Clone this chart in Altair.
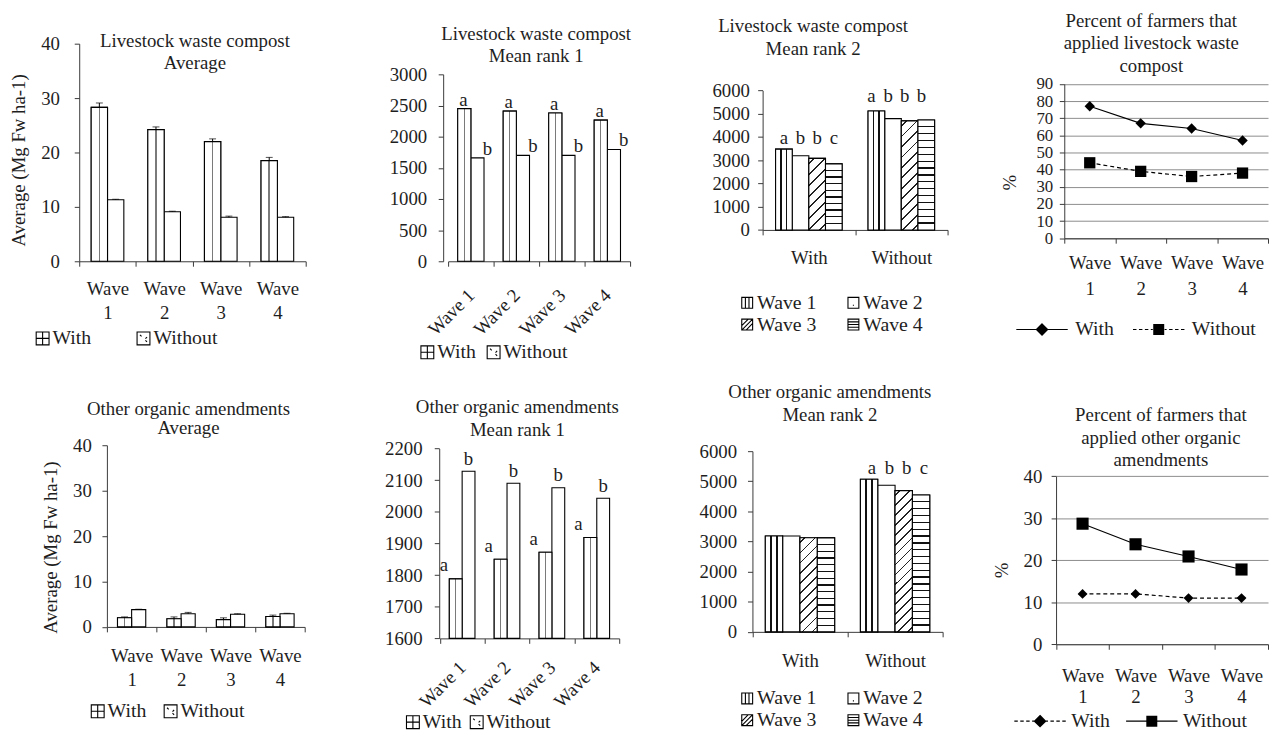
import altair as alt
import pandas as pd

# ---------------- data ----------------
waves = ["Wave 1", "Wave 2", "Wave 3", "Wave 4"]
groups = ["With", "Without"]

# Livestock waste compost
lwc_avg_with = [28.3, 24.2, 22.0, 18.5]
lwc_avg_with_err = [0.8, 0.5, 0.5, 0.6]
lwc_avg_without = [11.3, 9.1, 8.1, 8.1]
lwc_avg_without_err = [0.1, 0.1, 0.2, 0.1]

lwc_rank1_with = [2450, 2410, 2380, 2265]
lwc_rank1_without = [1660, 1700, 1700, 1795]
lwc_rank1_letters_with = ["a", "a", "a", "a"]
lwc_rank1_letters_without = ["b", "b", "b", "b"]

lwc_rank2_with = [3475, 3190, 3080, 2840]
lwc_rank2_without = [5120, 4790, 4690, 4730]
lwc_rank2_letters_with = ["a", "b", "b", "c"]
lwc_rank2_letters_without = ["a", "b", "b", "b"]

lwc_pct_with = [77, 67, 64, 57]
lwc_pct_without = [44, 39, 36, 38]

# Other organic amendments
ooa_avg_with = [2.0, 1.8, 1.6, 2.3]
ooa_avg_with_err = [0.2, 0.4, 0.4, 0.3]
ooa_avg_without = [3.8, 2.9, 2.8, 2.9]
ooa_avg_without_err = [0.1, 0.3, 0.1, 0.1]

ooa_rank1_with = [1788, 1850, 1872, 1919]
ooa_rank1_without = [2128, 2090, 2076, 2043]
ooa_rank1_letters_with = ["a", "a", "a", "a"]
ooa_rank1_letters_without = ["b", "b", "b", "b"]

ooa_rank2_with = [3185, 3185, 3125, 3120]
ooa_rank2_without = [5070, 4870, 4690, 4545]
ooa_rank2_letters_with = ["", "", "", ""]
ooa_rank2_letters_without = ["a", "b", "b", "c"]

ooa_pct_with = [12, 12, 11, 11]
ooa_pct_without = [28.7, 23.8, 20.9, 17.8]

avg_ticks = [0, 10, 20, 30, 40]
lwc_rank1_ticks = [0, 500, 1000, 1500, 2000, 2500, 3000]
rank2_ticks = [0, 1000, 2000, 3000, 4000, 5000, 6000]
lwc_pct_ticks = [0, 10, 20, 30, 40, 50, 60, 70, 80, 90]
ooa_rank1_ticks = [1600, 1700, 1800, 1900, 2000, 2100, 2200]
ooa_pct_ticks = [0, 10, 20, 30, 40]

# ---------------- style ----------------
FONT = "Liberation Serif"
FS = 19
LFS = 20
TXT = "#1e1e1e"
AX = "#3a3a3a"
GRID = "#8c8c8c"
SW = 1.1
CW, CH = 314, 362
DY = -10  # vertical compensation applied to every in-panel position

SQ = "M-1,-1H1V1H-1Z"
P_WITH = SQ + "M0,-1V1M-1,0H1"
P_WITHOUT = SQ + "M-0.55,-0.55L-0.3,-0.3M0.3,0.3L0.55,0.55M0.55,-0.2L0.3,0.05"
P_W1 = SQ + "M-0.33,-1V1M0.33,-1V1"
P_W2 = SQ + "M-0.1,0.45H0.1"
P_W3 = SQ + "M-1,0.2L0.2,-1M-1,1L1,-1M-0.2,1L1,-0.2"
P_W4 = SQ + "M-1,-0.5H1M-1,0H1M-1,0.5H1"
DASHES = "M-5.2,0H-4.5M-4,0H-3.3M-2.8,0H-2.1M-1.6,0H-1.2M1.2,0H1.6M2.1,0H2.8M3.3,0H4M4.5,0H5.2"
SOLID = "M-5.2,0H-1.1M1.1,0H5.2"


def hatch_diamond(r=1.15, step=0.18):
    p = f"M0,{-r}L{r},0L0,{r}L{-r},0Z"
    y = -r + step
    while y < r - 1e-9:
        hw = r - abs(y)
        p += f"M{-hw:.2f},{y:.2f}H{hw:.2f}"
        y += step
    return p


def hatch_square(r=1.0, step=0.18):
    p = f"M{-r},{-r}H{r}V{r}H{-r}Z"
    y = -r + step
    while y < r - 1e-9:
        p += f"M{-r},{y:.2f}H{r}"
        y += step
    return p


DIAM = hatch_diamond()
SQM = hatch_square()


def frame(with_vals, without_vals, with_err=None, without_err=None, with_lab=None, without_lab=None):
    rows = []
    spec = [(groups[0], with_vals, with_err, with_lab), (groups[1], without_vals, without_err, without_lab)]
    for g, vals, err, lab in spec:
        for i, w in enumerate(waves):
            rows.append({"wave": w, "group": g, "value": vals[i],
                         "err": err[i] if err is not None else 0.0,
                         "letter": lab[i] if lab is not None else ""})
    return pd.DataFrame(rows)


def gradient(pos, width, color, x2, y2, bg="white"):
    stops = [{"offset": 0.0, "color": bg}]
    for p in pos:
        a = round(max(0.0, p - width / 2), 4)
        b = round(min(1.0, p + width / 2), 4)
        stops += [{"offset": a, "color": bg}, {"offset": a, "color": color},
                  {"offset": b, "color": color}, {"offset": b, "color": bg}]
    stops.append({"offset": 1.0, "color": bg})
    return {"gradient": "linear", "x1": 0, "y1": 0, "x2": round(x2, 4), "y2": round(y2, 4), "stops": stops}


def yaxis(ax_x, ticks, lpad, title=None, tx=0, ty=0, grid=False, lfs=FS):
    kw = dict(values=ticks, format="d", offset=-ax_x, labelPadding=lpad, tickSize=5, domainColor=AX,
              tickColor=AX, labelFont=FONT, labelFontSize=lfs, labelColor=TXT, grid=grid,
              labelOverlap=False)
    if grid:
        kw.update(gridColor=GRID, gridWidth=1)
    if title:
        kw.update(title=title, titleX=tx, titleY=ty + DY, titleAngle=270, titleAlign="center",
                  titleBaseline="middle", titleFont=FONT, titleFontSize=FS, titleFontWeight="normal",
                  titleColor=TXT)
    else:
        kw["title"] = None
    return alt.Axis(**kw)


def xaxis(ax_y, lpad, mode, lh=24):
    kw = dict(title=None, offset=ax_y - CH, tickSize=5, tickBand="extent", labelPadding=lpad,
              domainColor=AX, tickColor=AX, labelFont=FONT, labelFontSize=FS, labelColor=TXT,
              grid=False, labelOverlap=False)
    if mode == "wrap":
        kw.update(labelExpr="split(datum.label, ' ')", labelAngle=0, labelAlign="center",
                  labelBaseline="top", labelLineHeight=lh)
    elif mode == "rot":
        kw.update(labelAngle=315, labelAlign="right", labelBaseline="middle")
    else:
        kw.update(labelAngle=0, labelAlign="center", labelBaseline="top")
    return alt.Axis(**kw)


def X(field, dom, rng, axis=alt.Undefined):
    return alt.X(f"{field}:N", axis=axis,
                 scale=alt.Scale(type="band", domain=dom, range=rng, paddingInner=0, paddingOuter=0))


def XO(field, dom, pad):
    return alt.XOffset(f"{field}:N", scale=alt.Scale(domain=dom, paddingInner=0, paddingOuter=pad))


def Y(dom, rng, axis=alt.Undefined, field="value"):
    return alt.Y(f"{field}:Q", axis=axis, scale=alt.Scale(domain=dom, range=rng, nice=False, zero=False))


def legend_layer(df, field, dom, paths, lx, ly, size, cols=None, col_pad=10, row_pad=2,
                 label_offset=3):
    sym_off = 0
    if label_offset < 0:
        sym_off = -label_offset
        lx = lx + label_offset
        label_offset = 0
    lkw = dict(title=None, orient="none", legendX=lx, legendY=ly + DY, direction="horizontal",
               symbolSize=size, symbolOpacity=1, symbolStrokeColor="black", symbolStrokeWidth=1.1,
               labelFont=FONT, labelFontSize=LFS, labelColor=TXT, labelOffset=label_offset,
               columnPadding=col_pad, rowPadding=row_pad, padding=0)
    if sym_off:
        lkw["symbolOffset"] = sym_off
    if cols:
        lkw["columns"] = cols
    return alt.Chart(df).mark_point(size=0, filled=False, color="black").encode(
        x=alt.value(1), y=alt.value(1),
        shape=alt.Shape(f"{field}:N", scale=alt.Scale(domain=dom, range=paths), legend=alt.Legend(**lkw)))


def title_layers(lines, x, first_center, lh):
    out = []
    for i, line in enumerate(lines):
        out.append(alt.Chart(pd.DataFrame({"k": [0]})).mark_text(
            text=line, font=FONT, fontSize=FS, color=TXT, align="center", baseline="middle"
        ).encode(x=alt.value(x), y=alt.value(first_center + DY + i * lh)))
    return out


def wave_bar_panel(df, yx, xr, ybot, ytop, opad, ydom, yticks, ylpad, xmode, xlpad, lh,
                   title_lines, title_xy, title_lh, leg, ytitle=None, ytxy=(0, 0),
                   errors=False, letters=None):
    ybot, ytop = ybot + DY, ytop + DY
    xe_ax = X("wave", waves, xr, axis=xaxis(ybot, xlpad, xmode, lh))
    xe = X("wave", waves, xr)
    oe = XO("group", groups, opad)
    ye_ax = Y(ydom, [ybot, ytop], axis=yaxis(yx, yticks, ylpad, ytitle, ytxy[0], ytxy[1]))
    ye = Y(ydom, [ybot, ytop])
    y2e = alt.datum(ydom[0])
    layers = [
        alt.Chart(df).mark_bar(fill="white", stroke="black", strokeWidth=SW).encode(
            x=xe_ax, xOffset=oe, y=ye_ax, y2=y2e),
        alt.Chart(df).transform_filter(alt.datum.group == groups[0]).mark_bar(
            fill=gradient([0.5], 0.1, "#7a7a7a", 1, 0), stroke="black", strokeWidth=SW).encode(
            x=xe, xOffset=oe, y=ye, y2=y2e),
    ]
    if errors:
        eb = alt.Chart(df).transform_calculate(top="datum.value + datum.err")
        layers.append(eb.mark_rule(color="black", strokeWidth=1).encode(
            x=xe, xOffset=oe, y=ye, y2="top:Q"))
        layers.append(eb.mark_tick(color="black", thickness=1, size=7, orient="horizontal").encode(
            x=xe, xOffset=oe, y=Y(ydom, [ybot, ytop], field="top")))
    if letters:
        for grp, dx, dy in letters:
            layers.append(alt.Chart(df).transform_filter(alt.datum.group == grp).mark_text(
                font=FONT, fontSize=FS, color=TXT, baseline="bottom", align="center", dx=dx, dy=dy
            ).encode(x=xe, xOffset=oe, y=ye, text="letter:N"))
    layers.append(legend_layer(df, "group", groups, [P_WITH, P_WITHOUT], **leg))
    layers += title_layers(title_lines, title_xy[0], title_xy[1], title_lh)
    return alt.layer(*layers).properties(width=CW, height=CH)


def group_bar_panel(df, yx, xr, ybot, ytop, opad, barw, ydom, yticks, ylpad, xlpad,
                    title_lines, title_xy, title_lh, leg, letters):
    ybot, ytop = ybot + DY, ytop + DY
    xe_ax = X("group", groups, xr, axis=xaxis(ybot, xlpad, "plain"))
    xe = X("group", groups, xr)
    oe = XO("wave", waves, opad)
    ye_ax = Y(ydom, [ybot, ytop], axis=yaxis(yx, yticks, ylpad))
    ye = Y(ydom, [ybot, ytop])
    y2e = alt.datum(ydom[0])
    span = ybot - ytop
    layers = [
        alt.Chart(df).mark_bar(fill="white", stroke="black", strokeWidth=SW).encode(
            x=xe_ax, xOffset=oe, y=ye_ax, y2=y2e),
        alt.Chart(df).transform_filter(alt.datum.wave == waves[0]).mark_bar(
            fill=gradient([1 / 3, 2 / 3], 0.09, "#111", 1, 0), stroke="black", strokeWidth=SW).encode(
            x=xe, xOffset=oe, y=ye, y2=y2e),
    ]
    for _, r in df.iterrows():
        if r["wave"] not in (waves[2], waves[3]):
            continue
        h = (r["value"] - ydom[0]) / (ydom[1] - ydom[0]) * span
        if r["wave"] == waves[3]:
            n = max(2, round(h / 7))
            g = gradient([k / n for k in range(1, n)], 1.3 / h, "#111", 0, 1)
        else:
            ratio = barw / h
            t = (ratio + 1) / (ratio ** 2 + 1)
            n = max(2, round(h / 9))
            g = gradient([(k + 0.5) / n for k in range(n)], 1.5 / h, "#222", ratio * t, t)
        layers.append(alt.Chart(df).transform_filter(
            (alt.datum.wave == r["wave"]) & (alt.datum.group == r["group"])).mark_bar(
            fill=g, stroke="black", strokeWidth=SW).encode(x=xe, xOffset=oe, y=ye, y2=y2e))
    for grp, dx, dy in letters:
        layers.append(alt.Chart(df).transform_joinaggregate(maxv="max(value)", groupby=["group"])
                      .transform_filter(alt.datum.group == grp).mark_text(
            font=FONT, fontSize=FS, color=TXT, baseline="bottom", align="center", dx=dx, dy=dy
        ).encode(x=xe, xOffset=oe, y=Y(ydom, [ybot, ytop], field="maxv"), text="letter:N"))
    layers.append(legend_layer(df, "wave", waves, [P_W1, P_W2, P_W3, P_W4], cols=2, **leg))
    layers += title_layers(title_lines, title_xy[0], title_xy[1], title_lh)
    return alt.layer(*layers).properties(width=CW, height=CH)


def line_panel(df, yx, xr, ybot, ytop, ydom, yticks, ylpad, xlpad, lh, ytxy,
               title_lines, title_xy, title_lh, styles, leg, lfs=FS):
    ybot, ytop = ybot + DY, ytop + DY
    xe_ax = X("wave", waves, xr, axis=xaxis(ybot, xlpad, "wrap", lh))
    xe = X("wave", waves, xr)
    ye_ax = Y(ydom, [ybot, ytop], axis=yaxis(yx, yticks, ylpad, "%", ytxy[0], ytxy[1], grid=True, lfs=lfs))
    ye = Y(ydom, [ybot, ytop])
    layers = []
    paths = []
    first = True
    for grp, dashed, shape, size in styles:
        sub = alt.Chart(df).transform_filter(alt.datum.group == grp)
        lkw = dict(color="black", strokeWidth=1.2)
        if dashed:
            lkw["strokeDash"] = [4, 3]
        layers.append(sub.mark_line(**lkw).encode(x=xe_ax if first else xe, y=ye_ax if first else ye))
        first = False
        paths.append((DASHES if dashed else SOLID) + (DIAM if shape == "diamond" else SQM))
    for grp, dashed, shape, size in styles:
        sub = alt.Chart(df).transform_filter(alt.datum.group == grp)
        layers.append(sub.mark_point(shape=shape, filled=True, color="black", size=size, opacity=1).encode(
            x=xe, y=ye))
    layers.append(legend_layer(df, "group", groups, paths, size=100, **leg))
    layers += title_layers(title_lines, title_xy[0], title_xy[1], title_lh)
    return alt.layer(*layers).properties(width=CW, height=CH)


# ---------------- panels ----------------
p1 = wave_bar_panel(
    frame(lwc_avg_with, lwc_avg_without, lwc_avg_with_err, lwc_avg_without_err),
    yx=69, xr=[69, 298], ybot=253, ytop=33, opad=0.735, ydom=[0, 40], yticks=avg_ticks, ylpad=15,
    xmode="wrap", xlpad=13.7, lh=24.3,
    title_lines=["Livestock waste compost", "Average"], title_xy=(186, 30), title_lh=23,
    leg=dict(lx=22, ly=321, size=169, col_pad=40, label_offset=-2),
    ytitle="Average (Mg Fw ha-1)", ytxy=(-61, 150.5), errors=True)

p2 = wave_bar_panel(
    frame(lwc_rank1_with, lwc_rank1_without, with_lab=lwc_rank1_letters_with,
          without_lab=lwc_rank1_letters_without),
    yx=116, xr=[121, 305], ybot=253, ytop=64, opad=0.73, ydom=[0, 3000], yticks=lwc_rank1_ticks,
    ylpad=11.6, xmode="rot", xlpad=26, lh=24,
    title_lines=["Livestock waste compost", "Mean rank 1"], title_xy=(210, 23.7), title_lh=21.6,
    leg=dict(lx=90, ly=335, size=169, col_pad=0, label_offset=-7),
    letters=[("With", -1, 1), ("Without", 10, 1)])

p3 = group_bar_panel(
    frame(lwc_rank2_with, lwc_rank2_without, with_lab=lwc_rank2_letters_with,
          without_lab=lwc_rank2_letters_without),
    yx=122, xr=[122, 309], ybot=221.3, ytop=80.3, opad=0.78, barw=16.8, ydom=[0, 6000],
    yticks=rank2_ticks, ylpad=8.3, xlpad=14.4,
    title_lines=["Livestock waste compost", "Mean rank 2"], title_xy=(173, 15.2), title_lh=23.3,
    leg=dict(lx=96.4, ly=285, size=121, col_pad=16.4, label_offset=-10.4),
    letters=[("With", 0, -1), ("Without", -5, -4.6)])

p4 = line_panel(
    frame(lwc_pct_with, lwc_pct_without),
    yx=110, xr=[110, 316], ybot=229.7, ytop=73.7, ydom=[0, 90], yticks=lwc_pct_ticks, ylpad=6.7,
    xlpad=11, lh=26, ytxy=(-55, 173),
    title_lines=["Percent of farmers that", "applied livestock waste", "compost"],
    title_xy=(198, 10.3), title_lh=22.5,
    styles=[("With", False, "diamond", 110), ("Without", True, "square", 130)],
    leg=dict(lx=77.5, ly=312, col_pad=16, label_offset=23.5), lfs=17)

p5 = wave_bar_panel(
    frame(ooa_avg_with, ooa_avg_without, ooa_avg_with_err, ooa_avg_without_err),
    yx=97, xr=[97, 297], ybot=257.7, ytop=74, opad=0.75, ydom=[0, 40], yticks=avg_ticks, ylpad=10.7,
    xmode="wrap", xlpad=15, lh=24,
    title_lines=["Other organic amendments", "Average"], title_xy=(179.5, 37), title_lh=20,
    leg=dict(lx=77.7, ly=333, size=169, col_pad=11.7, label_offset=-2),
    ytitle="Average (Mg Fw ha-1)", ytxy=(-57, 177), errors=True)

p6 = wave_bar_panel(
    frame(ooa_rank1_with, ooa_rank1_without, with_lab=ooa_rank1_letters_with,
          without_lab=ooa_rank1_letters_without),
    yx=112, xr=[112.5, 294], ybot=269.3, ytop=77.3, opad=0.75, ydom=[1600, 2200],
    yticks=ooa_rank1_ticks, ylpad=12.3, xmode="rot", xlpad=21, lh=24,
    title_lines=["Other organic amendments", "Mean rank 1"], title_xy=(191, 35.3), title_lh=23.4,
    leg=dict(lx=75.4, ly=344, size=169, col_pad=0.5, label_offset=-4),
    letters=[("With", -12, -3.6), ("Without", 0, -2.6)])

p7 = group_bar_panel(
    frame(ooa_rank2_with, ooa_rank2_without, with_lab=ooa_rank2_letters_with,
          without_lab=ooa_rank2_letters_without),
    yx=111.7, xr=[111.7, 304], ybot=262.7, ytop=80, opad=0.743, barw=17.5, ydom=[0, 6000],
    yticks=rank2_ticks, ylpad=11, xlpad=15,
    title_lines=["Other organic amendments", "Mean rank 2"], title_xy=(190, 20), title_lh=23.3,
    leg=dict(lx=96.4, ly=320, size=121, col_pad=16.4, label_offset=-10.4),
    letters=[("With", 0, -5), ("Without", 3, -1)])

p8 = line_panel(
    frame(ooa_pct_with, ooa_pct_without),
    yx=101.7, xr=[101.7, 316], ybot=275.3, ytop=105.3, ydom=[0, 40], yticks=ooa_pct_ticks, ylpad=9.4,
    xlpad=17.4, lh=21.7, ytxy=(-55, 200),
    title_lines=["Percent of farmers that", "applied other organic", "amendments"],
    title_xy=(207.7, 44), title_lh=22.5,
    styles=[("With", True, "diamond", 100), ("Without", False, "square", 150)],
    leg=dict(lx=75.5, ly=343, col_pad=13, label_offset=21.5))

chart = (
    alt.concat(p1, p2, p3, p4, p5, p6, p7, p8, columns=4, spacing=0)
    .resolve_scale(shape="independent", xOffset="independent")
    .resolve_legend(shape="independent")
    .properties(padding=0)
    .configure(font=FONT)
    .configure_view(stroke=None)
)

chart.save("out.html", embed_options={"renderer": "svg", "actions": False})
